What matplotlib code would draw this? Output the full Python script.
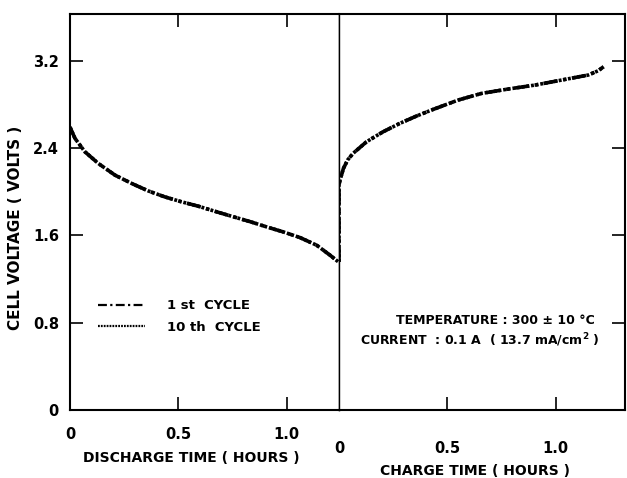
import numpy as np
from matplotlib import pyplot as plt

# values
t_dis = [0.0, 0.023, 0.069, 0.131, 0.208, 0.285, 0.361, 0.438, 0.515, 0.592,
         0.681, 0.754, 0.832, 0.908, 0.985, 1.061, 1.138, 1.200, 1.238]
v_dis = [2.59, 2.487, 2.364, 2.257, 2.150, 2.074, 2.006, 1.951, 1.906, 1.866,
         1.812, 1.769, 1.724, 1.676, 1.630, 1.579, 1.509, 1.417, 1.356]

t_chg = [0.0, 0.0, 0.005, 0.02, 0.04, 0.065, 0.127, 0.203, 0.28, 0.357, 0.434,
         0.55, 0.658, 0.781, 0.904, 1.027, 1.150, 1.196, 1.221]
v_chg = [1.356, 2.06, 2.105, 2.21, 2.29, 2.35, 2.456, 2.547, 2.624, 2.691, 2.752,
         2.838, 2.899, 2.939, 2.975, 3.021, 3.067, 3.106, 3.143]

x_ticks = [0, 0.5, 1.0]
x_labels = ['0', '0.5', '1.0']
y_ticks = [0, 0.8, 1.6, 2.4, 3.2]
y_labels = ['0', '0.8', '1.6', '2.4', '3.2']

plt.rcParams['font.family'] = ['DejaVu Sans']
plt.rcParams['font.weight'] = 'bold'
plt.rcParams['axes.labelweight'] = 'bold'

fig = plt.figure(figsize=(6.27, 4.78), dpi=100)
W, H = 627.0, 478.0
ax1 = fig.add_axes([70 / W, (H - 410) / H, 269 / W, 396 / H])
ax2 = fig.add_axes([339 / W, (H - 410) / H, 286 / W, 396 / H], sharey=ax1)

ax1.set_xlim(0, 1.241)
ax2.set_xlim(0, 1.32)
ax1.set_ylim(0, 3.626)

# the two cycles sit on top of each other
dashdot = (0, (4, 1.5, 1, 1.5))
dots = (0, (0.8, 0.5))
l1, = ax1.plot(t_dis, v_dis, color='black', lw=2.6, ls=dashdot)
l2, = ax1.plot(t_dis, v_dis, color='black', lw=2.6, ls=dots)
ax2.plot(t_chg, v_chg, color='black', lw=2.6, ls=dashdot)
ax2.plot(t_chg, v_chg, color='black', lw=2.6, ls=dots)

for ax in (ax1, ax2):
    for s in ax.spines.values():
        s.set_linewidth(1.5)
    ax.set_xticks(x_ticks)
    ax.set_xticklabels(x_labels)
    ax.tick_params(axis='both', direction='in', length=9.5, width=1.2,
                   top=True, bottom=True, labelsize=10.5)
    # 0 has a label but no tick mark of its own
    ax.xaxis.get_major_ticks()[0].tick1line.set_visible(False)
    ax.xaxis.get_major_ticks()[0].tick2line.set_visible(False)

ax1.spines['right'].set_linewidth(1.0)
ax2.spines['left'].set_linewidth(1.0)

ax1.set_yticks(y_ticks)
ax1.set_yticklabels(y_labels)
ax1.tick_params(axis='y', left=True, right=False, pad=8)
ax2.tick_params(axis='y', left=False, right=True, labelleft=False)

ax1.tick_params(axis='x', pad=12)
ax2.tick_params(axis='x', pad=22)

ax1.set_xlabel('DISCHARGE TIME ( HOURS )', fontsize=10)
ax1.xaxis.set_label_coords(0.45, -0.103)
ax2.set_xlabel('CHARGE TIME ( HOURS )', fontsize=10)
ax2.xaxis.set_label_coords(0.476, -0.136)
ax1.set_ylabel('CELL VOLTAGE ( VOLTS )', fontsize=11)
ax1.yaxis.set_label_coords(-0.175, 0.46)

leg = ax1.legend([l1, l2], ['1 st  CYCLE', '10 th  CYCLE'], frameon=False,
                 loc='center left', bbox_to_anchor=(0.104, 0.236), borderpad=0,
                 borderaxespad=0, handlelength=3.6, handletextpad=1.6,
                 labelspacing=0.65, prop={'size': 9.5, 'weight': 'bold'})
for h in leg.get_lines():
    h.set_linewidth(1.6)

ax2.text(1.181, 0.82, 'TEMPERATURE : 300 ± 10 °C', ha='right', va='center', fontsize=9)
ax2.text(1.205, 0.637, 'CURRENT  : 0.1 A  ( 13.7 mA/cm$^\\mathbf{2}$ )', ha='right', va='center', fontsize=9)

fig.savefig('out.png', dpi=100)
